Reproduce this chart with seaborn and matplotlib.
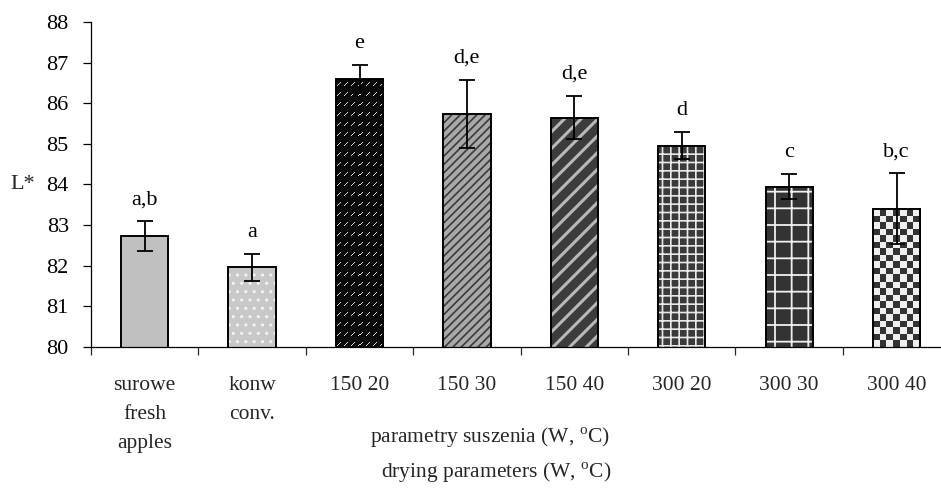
import numpy as np
import pandas as pd
import matplotlib
matplotlib.use("Agg")
import matplotlib.pyplot as plt
import seaborn as sns

# ---- data ----
categories = ["surowe\nfresh\napples", "konw\nconv.", "150 20", "150 30",
              "150 40", "300 20", "300 30", "300 40"]
means = [82.73, 81.96, 86.59, 85.74, 85.64, 84.95, 83.94, 83.40]
errors = [0.36, 0.33, 0.35, 0.84, 0.53, 0.33, 0.31, 0.87]
letters = ["a,b", "a", "e", "d,e", "d,e", "d", "c", "b,c"]
y_ticks = [80, 81, 82, 83, 84, 85, 86, 87, 88]

# ---- styles ----
face_colors = ["#c0c0c0", "#c8c8c8", "#0a0a0a", "#a8a8a8",
               "#3c3c3c", "#3a3a3a", "#333333", "#f0f0f0"]
hatches = [None, "..", None, "////", "//", "++", "+", None]
hatch_colors = ["#c0c0c0", "#f4f4f4", "#0a0a0a", "#3a3a3a",
                "#b8b8b8", "#e8e8e8", "#f0f0f0", "#f0f0f0"]
hatch_lw = [1.0, 1.0, 1.0, 1.2, 2.2, 1.2, 1.3, 1.0]

sns.set_style("white")
plt.rcParams["font.family"] = ["Liberation Serif", "DejaVu Serif"]
plt.rcParams["mathtext.fontset"] = "custom"
plt.rcParams["mathtext.rm"] = "Liberation Serif"

df = pd.DataFrame({"cat": categories, "val": means})

fig = plt.figure(figsize=(9.41, 4.88), dpi=100)
ax = fig.add_axes([91 / 941, 0.289, (941 - 91) / 941, 0.666])

width = 0.44
sns.barplot(data=df, x="cat", y="val", hue="cat", palette=face_colors,
            legend=False, width=width, ax=ax, linewidth=0, zorder=2)
fill_patches = list(ax.patches)
for i, p in enumerate(fill_patches):
    p.set_facecolor(face_colors[i])
    p.set_edgecolor(hatch_colors[i])
    p.set_linewidth(0)
    if hasattr(p, "set_hatch_linewidth"):
        p.set_hatch_linewidth(hatch_lw[i])
    if hatches[i]:
        p.set_hatch(hatches[i])

ax.set_ylim(80, 88)
ax.set_xlim(-0.5, 7.414)

fig.canvas.draw()

def bar_pixels(p):
    x0, y0 = p.get_x(), p.get_y()
    x1, y1 = x0 + p.get_width(), y0 + p.get_height()
    (px0, py0) = ax.transData.transform((x0, 80))
    (px1, py1) = ax.transData.transform((x1, y1))
    return int(round(px1 - px0)), int(round(py1 - py0)), (x0, x1, 80, y1)

# texture for "150 20": black with short white diagonal dashes
p3 = fill_patches[2]
w, h, ext = bar_pixels(p3)
unit = np.zeros((10, 7))
for k in range(4):
    unit[6 - k, 1 + k] = 1.0
tex = np.tile(unit, (h // 10 + 2, w // 7 + 2))[:h, :w]
rgb = np.where(tex[..., None] > 0, np.array([0.85, 0.85, 0.85]),
               np.array([0.04, 0.04, 0.04]))
ax.imshow(rgb[::-1], extent=ext, origin="lower", aspect="auto",
          interpolation="nearest", zorder=2.5)

# texture for "300 40": checkerboard
p8 = fill_patches[7]
w, h, ext = bar_pixels(p8)
s = 6.5
yy, xx = np.mgrid[0:h, 0:w]
chk = ((np.floor(xx / s) + np.floor(yy / s)) % 2).astype(bool)
rgb = np.where(chk[..., None], np.array([0.2, 0.2, 0.2]),
               np.array([0.94, 0.94, 0.94]))
ax.imshow(rgb, extent=ext, origin="lower", aspect="auto",
          interpolation="nearest", zorder=2.5)

# outlines
sns.barplot(data=df, x="cat", y="val", fill=False, width=width, ax=ax,
            edgecolor="black", linewidth=1.4, zorder=3, errorbar=None)

ax.set_ylim(80, 88)
ax.set_xlim(-0.5, 7.414)

# error bars
xpos = np.arange(len(categories))
ax.errorbar(xpos, means, yerr=errors, fmt="none", ecolor="black",
            elinewidth=1.3, capsize=6, capthick=1.3, zorder=4)

# significance letters
for i, (m, e, t) in enumerate(zip(means, errors, letters)):
    ax.annotate(t, xy=(xpos[i], m + e), xytext=(0, 12.5),
                textcoords="offset points", ha="center", va="baseline",
                fontsize=16, color="black")

# axes styling
for side in ["top", "right"]:
    ax.spines[side].set_visible(False)
for side in ["left", "bottom"]:
    ax.spines[side].set_linewidth(0.9)
    ax.spines[side].set_color("black")

ax.set_yticks(y_ticks)
ax.set_yticklabels([str(v) for v in y_ticks], fontsize=16)
ax.tick_params(axis="y", direction="out", length=6, width=0.9, pad=10,
               left=True, colors="black")

ax.set_xticks(xpos)
ax.set_xticklabels(categories, fontsize=15.5)
ax.set_xticks(np.arange(-0.5, 7.5, 1.0), minor=True)
ax.tick_params(axis="x", which="major", length=0, pad=21)
ax.tick_params(axis="x", which="minor", direction="out", length=6,
               width=0.9, bottom=True)
for lbl in ax.get_xticklabels():
    lbl.set_linespacing(1.72)

ax.set_xlabel("")
ax.set_ylabel("L*", rotation=0, fontsize=16, va="center", ha="center")
ax.yaxis.set_label_coords(-0.08, 0.5)

fig.text(490 / 941, 1 - 438 / 488, r"parametry suszenia (W, $^{\mathrm{o}}$C)",
         ha="center", va="center", fontsize=15.5)
fig.text(496 / 941, 1 - 473 / 488, r"drying parameters (W, $^{\mathrm{o}}$C)",
         ha="center", va="center", fontsize=15.5)

fig.savefig("out.png", dpi=100)
